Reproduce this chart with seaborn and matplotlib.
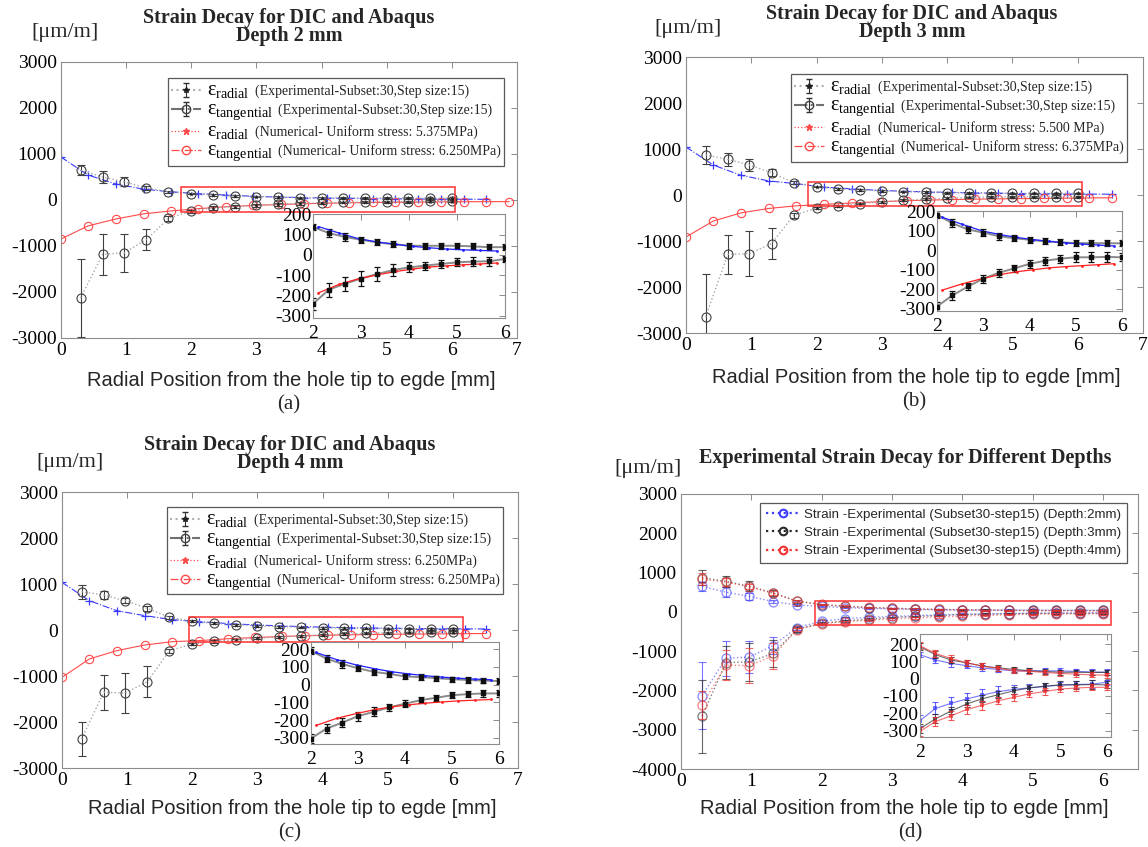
import numpy as np
import matplotlib
matplotlib.use('Agg')
import matplotlib.pyplot as plt
import seaborn as sns
from matplotlib.patches import Rectangle
from matplotlib.lines import Line2D
from matplotlib.offsetbox import TextArea

sns.set_theme(style='white')
plt.rcParams['font.family'] = ['Liberation Serif', 'DejaVu Serif']
plt.rcParams['mathtext.fontset'] = 'custom'
plt.rcParams['mathtext.rm'] = 'Liberation Serif'
plt.rcParams['mathtext.it'] = 'Liberation Serif:italic'
plt.rcParams['axes.unicode_minus'] = False

# ---------------- data ----------------
exp_x = [0.30, 0.64, 0.97, 1.31, 1.65, 2.00, 2.33, 2.67, 3.00, 3.33, 3.67, 4.00, 4.33, 4.67, 5.00, 5.33, 5.67, 6.00]

exp_tan_2mm = [648, 500, 395, 262, 175, 138, 108, 88, 75, 62, 53, 45, 45, 45, 45, 42, 38, 38]
exp_tan_err_2mm = [110, 125, 95, 35, 25, 15, 18, 18, 15, 15, 15, 15, 15, 15, 15, 15, 15, 15]
exp_rad_2mm = [-2130, -1180, -1150, -860, -400, -242, -172, -142, -117, -95, -75, -62, -53, -45, -37, -33, -32, -20]
exp_rad_err_2mm = [850, 440, 415, 220, 50, 30, 35, 35, 35, 35, 30, 25, 20, 20, 20, 22, 22, 15]

exp_tan_3mm = [870, 775, 652, 485, 268, 184, 139, 107, 91, 73, 62, 54, 46, 41, 37, 37, 36, 36]
exp_tan_err_3mm = [190, 140, 130, 70, 30, 20, 20, 18, 18, 18, 15, 15, 15, 15, 15, 15, 15, 15]
exp_rad_3mm = [-2652, -1290, -1275, -1058, -442, -289, -232, -186, -146, -116, -93, -70, -54, -43, -36, -36, -34, -36]
exp_rad_err_3mm = [930, 430, 490, 335, 60, 25, 25, 20, 20, 20, 20, 20, 20, 20, 25, 25, 25, 20]

exp_tan_4mm = [833, 760, 637, 471, 275, 190, 146, 116, 92, 72, 60, 46, 42, 36, 30, 26, 22, 20]
exp_tan_err_4mm = [150, 90, 60, 50, 30, 20, 20, 20, 18, 18, 15, 15, 15, 15, 15, 15, 15, 15]
exp_rad_4mm = [-2370, -1355, -1370, -1123, -450, -304, -248, -214, -178, -154, -128, -108, -88, -74, -60, -54, -50, -50]
exp_rad_err_4mm = [365, 380, 440, 330, 40, 25, 25, 25, 25, 25, 20, 20, 18, 18, 18, 18, 18, 18]

num_x_2mm = [0, 0.41, 0.85, 1.27, 1.69, 2.11, 2.54, 2.95, 3.38, 3.73, 4.08, 4.42, 4.79, 5.13, 5.48, 5.84, 6.19, 6.53, 6.88]
num_pos_2mm = [934, 545, 345, 235, 178, 140, 108, 80, 62, 52, 42, 35, 29, 25, 22, 19, 17, 15]
num_neg_2mm = [-850, -565, -410, -300, -238, -188, -146, -118, -97, -82, -70, -60, -54, -49, -45, -40, -38, -36, -35]

num_x_3mm = [0, 0.42, 0.84, 1.27, 1.69, 2.11, 2.55, 2.97, 3.38, 3.73, 4.08, 4.43, 4.78, 5.13, 5.48, 5.83, 6.18, 6.53]
num_pos_3mm = [1043, 650, 430, 305, 246, 170, 133, 100, 80, 66, 55, 46, 38, 32, 27, 22, 19, 17]
num_neg_3mm = [-913, -565, -390, -292, -235, -205, -172, -146, -124, -110, -100, -90, -84, -79, -74, -69, -64, -60]

num_x_4mm = [0, 0.42, 0.84, 1.27, 1.69, 2.11, 2.55, 2.97, 3.38, 3.73, 4.08, 4.43, 4.78, 5.13, 5.48, 5.83, 6.18, 6.51]
num_pos_4mm = [1036, 638, 420, 312, 225, 181, 140, 110, 88, 72, 60, 50, 42, 36, 31, 27, 24, 22]
num_neg_4mm = [-1029, -630, -449, -326, -254, -230, -190, -163, -140, -125, -114, -105, -98, -92, -88, -84, -80, -77]

stress_labels = [("5.375MPa", "6.250MPa"), ("5.500 MPa", "6.375MPa"), ("6.250MPa", "6.250MPa")]
depth_labels = ["2 mm", "3 mm", "4 mm"]
depth_legend = ["Depth:2mm", "Depth:3mm", "Depth:4mm"]

# ---------------- layout helpers ----------------
W, H = 1148, 847
fig = plt.figure(figsize=(W / 100, H / 100), dpi=100)

def px_axes(l, t, r, b):
    return fig.add_axes([l / W, 1 - b / H, (r - l) / W, (b - t) / H])

def px_text(x, y, s, **kw):
    fig.text(x / W, 1 - y / H, s, ha='center', va='center', **kw)

SPINE = '#8c8c8c'

def style_axes(ax, size=14):
    for sp in ax.spines.values():
        sp.set_color(SPINE)
        sp.set_linewidth(0.8)
    ax.tick_params(direction='in', top=True, right=True, length=4, width=0.7,
                   color=SPINE, labelsize=size, labelcolor='black', pad=3)
    ax.set_xlabel('')
    ax.set_ylabel('')

def line(ax, x, y, **kw):
    sns.lineplot(x=x, y=y, ax=ax, estimator=None, sort=False, legend=False, **kw)

def ebar(ax, x, y, e, color, cap=3, lw=0.8, alpha=1.0):
    ax.errorbar(x, y, yerr=e, fmt='none', ecolor=color, elinewidth=lw,
                capsize=cap, capthick=lw, alpha=alpha)

def enlarge_eps(leg, eps_labels):
    try:
        items = []
        for col in leg._legend_handle_box.get_children():
            items.extend(col.get_children())
        for item, eps in zip(items, eps_labels):
            ta = TextArea(eps, textprops=dict(fontsize=14.5, color='black'))
            ta.set_figure(fig)
            item._children.insert(1, ta)
        return True
    except Exception:
        return False

def style_inset(ia):
    style_axes(ia, size=14)
    ia.tick_params(axis='y', pad=1)
    ia.tick_params(axis='x', pad=5)

# ---------------- panels a-c ----------------
panels = [
    dict(box=(61, 62, 517, 338), inset=(313, 214, 505, 318), iylim=(-312, 202),
         exp=(exp_tan_2mm, exp_tan_err_2mm, exp_rad_2mm, exp_rad_err_2mm),
         num=(num_x_2mm, num_pos_2mm, num_neg_2mm), rect=(1.84, 6.05, -254, 290),
         leg=(0.971, 0.942), title=(289, 18, 36), unit=(65, 33), xl=380, cap=405, tag='(a)'),
    dict(box=(686, 57, 1143, 333), inset=(937, 211, 1122, 311), iylim=(-312, 202),
         exp=(exp_tan_3mm, exp_tan_err_3mm, exp_rad_3mm, exp_rad_err_3mm),
         num=(num_x_3mm, num_pos_3mm, num_neg_3mm), rect=(1.87, 6.07, -250, 279),
         leg=(0.965, 0.938), title=(912, 14, 32), unit=(688, 29), xl=377, cap=402, tag='(b)'),
    dict(box=(62, 492, 518, 768), inset=(311, 642, 499, 744), iylim=(-335, 240),
         exp=(exp_tan_4mm, exp_tan_err_4mm, exp_rad_4mm, exp_rad_err_4mm),
         num=(num_x_4mm, num_pos_4mm, num_neg_4mm), rect=(1.95, 6.15, -254, 275),
         leg=(0.967, 0.946), title=(290, 445, 463), unit=(70, 462), xl=808, cap=833, tag='(c)'),
]

EXP_LINE = '#a8a8a8'
EXP_MK = '#404040'
BLUE = '#3a3aff'
RED = '#ff4a4a'

for i, p in enumerate(panels):
    ax = px_axes(*p['box'])
    tan, tan_e, rad, rad_e = p['exp']
    nx, npos, nneg = p['num']
    # numerical curves
    line(ax, nx[:len(npos)], npos, color=BLUE, linestyle='-.', linewidth=0.8,
         marker='+', markersize=6, markeredgecolor=BLUE, markeredgewidth=0.9)
    line(ax, nx[:len(nneg)], nneg, color=RED, linestyle='-', linewidth=0.8,
         marker='o', markersize=6, markerfacecolor='none', markeredgecolor=RED, markeredgewidth=0.8)
    # experimental curves
    for vals, errs in ((tan, tan_e), (rad, rad_e)):
        ebar(ax, exp_x, vals, errs, '#404040', cap=3, lw=0.8)
        line(ax, exp_x, vals, color=EXP_LINE, linestyle=':', linewidth=1.0,
             marker='o', markersize=6.5, markerfacecolor='none', markeredgecolor=EXP_MK, markeredgewidth=0.8)
        xs = [x for x in exp_x if x >= 1.9]
        vs = [v for x, v in zip(exp_x, vals) if x >= 1.9]
        ax.scatter(xs, vs, marker='*', s=14, color='#202020', linewidths=0, zorder=5)
    ax.set_xlim(0, 7)
    ax.set_ylim(-3000, 3000)
    ax.set_xticks(range(0, 8))
    ax.set_yticks(range(-3000, 3001, 1000))
    style_axes(ax)
    x0, x1, y0, y1 = p['rect']
    ax.add_patch(Rectangle((x0, y0), x1 - x0, y1 - y0, fill=False, edgecolor='#ff3030', linewidth=1.1, zorder=6))

    # legend
    h1 = ax.errorbar([np.nan], [np.nan], yerr=[np.nan], fmt=':*', color='#b0b0b0', ecolor='#303030',
                     markerfacecolor='#202020', markeredgecolor='#202020', markersize=4, capsize=2, elinewidth=0.8)
    h2 = ax.errorbar([np.nan], [np.nan], yerr=[np.nan], fmt='-.o', color='#707070', ecolor='#303030',
                     markerfacecolor='none', markeredgecolor='#404040', markersize=6, capsize=2, elinewidth=0.8)
    h3 = Line2D([], [], color=RED, linestyle=':', marker='*', markersize=5, markeredgecolor=RED, linewidth=0.9)
    h4 = Line2D([], [], color=RED, linestyle='-.', marker='o', markersize=6, markerfacecolor='none',
                markeredgecolor=RED, linewidth=0.9)
    s1, s2 = stress_labels[i]
    eps = [r'$\mathrm{ε_{radial}}$', r'$\mathrm{ε_{tangential}}$',
           r'$\mathrm{ε_{radial}}$', r'$\mathrm{ε_{tangential}}$']
    texts = ['(Experimental-Subset:30,Step size:15)',
             '(Experimental-Subset:30,Step size:15)',
             '(Numerical- Uniform stress: ' + s1 + ')',
             '(Numerical- Uniform stress: ' + s2 + ')']
    leg = ax.legend([h1, h2, h3, h4], texts, loc='upper right', bbox_to_anchor=p['leg'],
                    fontsize=10, frameon=True, fancybox=False, edgecolor='#303030',
                    borderpad=0.2, labelspacing=0.0, handlelength=2.2, handletextpad=0.4,
                    borderaxespad=0.0)
    if not enlarge_eps(leg, eps):
        for t, e in zip(leg.get_texts(), eps):
            t.set_text(e + '  ' + t.get_text())
    leg.get_frame().set_linewidth(0.9)
    leg.set_zorder(10)

    # inset
    ia = px_axes(*p['inset'])
    ix = [x for x in nx if 1.9 <= x <= 6.1]
    ipos = [v for x, v in zip(nx, npos) if 1.9 <= x <= 6.1]
    ineg = [v for x, v in zip(nx, nneg) if 1.9 <= x <= 6.1]
    for vals, errs in ((tan, tan_e), (rad, rad_e)):
        xs = [x for x in exp_x if x >= 1.9]
        vs = [v for x, v in zip(exp_x, vals) if x >= 1.9]
        es = [e for x, e in zip(exp_x, errs) if x >= 1.9]
        line(ia, xs, vs, color='#8a8a8a', linestyle='-', linewidth=1.4)
        ebar(ia, xs, vs, es, '#101010', cap=2, lw=0.9)
        ia.scatter(xs, vs, marker='s', s=5, color='#101010', zorder=5)
    line(ia, ix[:len(ipos)], ipos, color='#2020ff', linestyle='-', linewidth=0.9,
         marker='o', markersize=2, markeredgewidth=0)
    line(ia, ix[:len(ineg)], ineg, color='#ff2020', linestyle='-', linewidth=0.9,
         marker='o', markersize=2, markeredgewidth=0)
    ia.set_xlim(2, 6)
    ia.set_ylim(*p['iylim'])
    ia.set_xticks(range(2, 7))
    ia.set_yticks(range(-300, 201, 100))
    style_inset(ia)

    # texts
    cx, ty1, ty2 = p['title']
    px_text(cx, ty1, 'Strain Decay for DIC and Abaqus', fontsize=14.5, fontweight='bold')
    px_text(cx, ty2, 'Depth ' + depth_labels[i], fontsize=14.5, fontweight='bold')
    px_text(p['unit'][0], p['unit'][1], '[μm/m]', fontsize=16)
    bx = (p['box'][0] + p['box'][2]) / 2
    px_text(bx + 2, p['xl'], 'Radial Position from the hole tip to egde [mm]', fontsize=14.5,
            family='Liberation Sans')
    px_text(bx, p['cap'], p['tag'], fontsize=15)

# ---------------- panel d ----------------
ax = px_axes(681, 494, 1138, 769)
d_colors = ['#3d3dff', '#2a2a2a', '#f03030']
d_sets = [(exp_tan_2mm, exp_tan_err_2mm, exp_rad_2mm, exp_rad_err_2mm),
          (exp_tan_3mm, exp_tan_err_3mm, exp_rad_3mm, exp_rad_err_3mm),
          (exp_tan_4mm, exp_tan_err_4mm, exp_rad_4mm, exp_rad_err_4mm)]
handles = []
for c, (tan, tan_e, rad, rad_e) in zip(d_colors, d_sets):
    for vals, errs in ((tan, tan_e), (rad, rad_e)):
        ebar(ax, exp_x, vals, errs, c, cap=3, lw=0.8, alpha=0.7)
        line(ax, exp_x, vals, color=c, linestyle=':', linewidth=1.0, alpha=0.6,
             marker='o', markersize=6.5, markerfacecolor='none', markeredgecolor=c, markeredgewidth=0.9)
    handles.append(Line2D([], [], color=c, linestyle=':', linewidth=1.6, marker='o', markersize=5.5,
                          markerfacecolor='none', markeredgecolor=c, markeredgewidth=1.5))
ax.set_xlim(0, 6.5)
ax.set_ylim(-4000, 3000)
ax.set_xticks(range(0, 7))
ax.set_yticks(range(-4000, 3001, 1000))
style_axes(ax)
ax.add_patch(Rectangle((1.91, -336), 6.12 - 1.91, 269 + 336, fill=False, edgecolor='#ff3030', linewidth=1.1, zorder=6))
leg = ax.legend(handles, ['Strain -Experimental (Subset30-step15) (' + d + ')' for d in depth_legend],
                loc='upper right', bbox_to_anchor=(0.976, 0.967), frameon=True,
                fancybox=False, edgecolor='#303030', borderpad=0.4, labelspacing=0.45,
                handlelength=2.6, handletextpad=0.3, borderaxespad=0.0,
                prop={'family': 'Liberation Sans', 'size': 9.6})
leg.get_frame().set_linewidth(0.9)

ia = px_axes(920, 634, 1111, 737)
for c, (tan, tan_e, rad, rad_e) in zip(d_colors, d_sets):
    for vals, errs in ((tan, tan_e), (rad, rad_e)):
        xs = [x for x in exp_x if x >= 1.9]
        vs = [v for x, v in zip(exp_x, vals) if x >= 1.9]
        es = [e for x, e in zip(exp_x, errs) if x >= 1.9]
        ebar(ia, xs, vs, es, c, cap=2, lw=0.8, alpha=0.8)
        line(ia, xs, vs, color=c, linestyle='-', linewidth=0.8, alpha=0.7,
             marker='s', markersize=2.5, markeredgewidth=0)
ia.set_xlim(2, 6.08)
ia.set_ylim(-337, 258)
ia.set_xticks(range(2, 7))
ia.set_yticks(range(-300, 201, 100))
style_inset(ia)

px_text(905, 458, 'Experimental Strain Decay for Different Depths', fontsize=14.5, fontweight='bold')
px_text(648, 468, '[μm/m]', fontsize=16)
px_text(904, 808, 'Radial Position from the hole tip to egde [mm]', fontsize=14.5, family='Liberation Sans')
px_text(910, 833, '(d)', fontsize=15)

fig.savefig('out.png', dpi=100)
